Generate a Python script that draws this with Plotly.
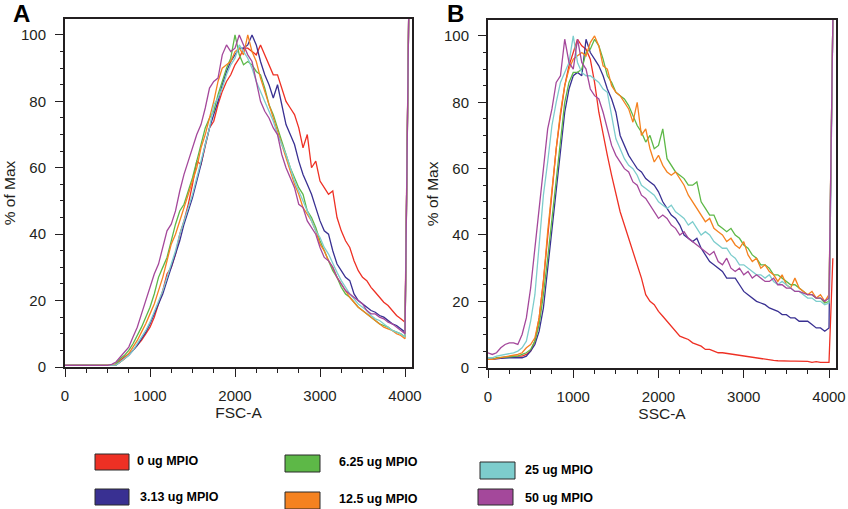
import plotly.graph_objects as go

# ---------------- data ----------------
# channel grid (FSC-A / SSC-A value), shared by both panels
channel = [0, 50, 100, 150, 200, 250, 300, 350, 400, 450,
           500, 550, 600, 650, 700, 750, 800, 850, 900, 950,
           1000, 1050, 1100, 1150, 1200, 1250, 1300, 1350, 1400, 1450,
           1500, 1550, 1600, 1650, 1700, 1750, 1800, 1850, 1900, 1950,
           2000, 2050, 2100, 2150, 2200, 2250, 2300, 2350, 2400, 2450,
           2500, 2550, 2600, 2650, 2700, 2750, 2800, 2850, 2900, 2950,
           3000, 3050, 3100, 3150, 3200, 3250, 3300, 3350, 3400, 3450,
           3500, 3550, 3600, 3650, 3700, 3750, 3800, 3850, 3900, 3950,
           4000, 4045]

series_names = ["0 ug MPIO", "3.13 ug MPIO", "6.25 ug MPIO",
                "12.5 ug MPIO", "25 ug MPIO", "50 ug MPIO"]
series_colors = ["#EE3024", "#393092", "#5DB847", "#F58220", "#7DCDCD", "#A4489B"]

# Panel A : FSC-A, % of Max
fsc_0 = [0.5, 0.5, 0.5, 0.5, 0.5, 0.5, 0.5, 0.5, 0.5, 0.5,
         0.5, 0.5, 0.7, 2, 3, 4, 5, 6.5, 8, 10,
         12, 15, 19, 23, 28, 30, 34, 40, 44, 49,
         55, 62, 61, 67, 72, 74, 79, 83, 86, 88,
         91, 93, 96, 96, 95, 94, 97, 94, 91, 88,
         88, 84, 80, 78, 76, 72, 66, 70, 60, 62,
         56, 54, 52, 53, 45, 41, 38, 36, 32, 29,
         27, 26, 24, 22.5, 21, 19.5, 18.5, 17, 15.5, 14.5,
         13.5, 110]
fsc_313 = [0.5, 0.5, 0.5, 0.5, 0.5, 0.5, 0.5, 0.5, 0.5, 0.5,
           0.5, 0.5, 0.6, 1.5, 2.5, 3.5, 5, 6.5, 8.5, 10.5,
           13, 16, 19, 22, 26, 30, 34, 38, 43, 47,
           51, 56, 61, 67, 72, 76, 80, 85, 89, 92,
           94, 96, 96, 97, 100, 97, 92, 88, 85, 81,
           85, 79, 73, 70, 67, 62, 58, 55, 52, 48,
           44, 41, 40, 35, 31, 29, 27, 26, 22, 20,
           19, 18, 17, 16.5, 15.5, 15, 14, 13, 12.5, 11.5,
           10.5, 110]
fsc_625 = [0.5, 0.5, 0.5, 0.5, 0.5, 0.5, 0.5, 0.5, 0.5, 0.5,
           0.5, 0.6, 1, 2.5, 3.5, 5, 7, 9.5, 12, 15,
           18, 22, 27, 30, 33, 38, 43, 47, 49, 53,
           57, 62, 67, 72, 75, 77, 82, 86, 90, 93,
           100, 94, 91, 92, 91, 89, 88, 84, 79, 76,
           72, 68, 64, 60, 57, 54, 52, 47, 45, 42,
           38, 35, 32, 29, 27, 24, 22, 21, 19.5, 18,
           17, 16, 15, 14, 13, 12.5, 12, 11, 10.5, 10,
           9, 110]
fsc_125 = [0.5, 0.5, 0.5, 0.5, 0.5, 0.5, 0.5, 0.5, 0.5, 0.5,
           0.5, 0.5, 0.7, 1.5, 2.5, 4, 6, 8, 10.5, 13,
           16, 19, 23, 27, 32, 37, 40, 44, 48, 52,
           56, 60, 66, 70, 75, 80, 86, 90, 91, 92,
           95, 96, 94, 100, 95, 92, 87, 83, 79, 75,
           71, 67, 63, 59, 55, 52, 48, 46, 44, 41,
           37, 35, 32, 30, 27, 25, 23, 21, 19.5, 18,
           17, 16, 15, 14, 13, 12, 11.5, 11, 10, 9.5,
           8.5, 110]
fsc_25 = [0.5, 0.5, 0.5, 0.5, 0.5, 0.5, 0.5, 0.5, 0.5, 0.5,
          0.5, 0.5, 0.6, 1.5, 2.5, 3.5, 5, 7, 9, 11,
          13.5, 16.5, 19.5, 23, 27, 31, 35, 40, 44, 48,
          52, 57, 62, 67, 72, 79, 81, 84, 88, 91,
          93, 97, 95, 93, 90, 86, 83, 80, 77, 74,
          70, 67, 64, 60, 56, 53, 50, 47, 44, 41,
          39, 36, 34, 31, 28.5, 26, 24, 22, 20.5, 19,
          18, 17, 15.5, 14.5, 14, 13, 12, 11, 10.5, 10,
          9, 110]
fsc_50 = [0.5, 0.5, 0.5, 0.5, 0.5, 0.5, 0.5, 0.5, 0.5, 0.5,
          0.5, 0.8, 1.5, 3, 4.5, 6, 9, 12, 16, 20,
          24, 28, 31, 36, 41, 43, 47, 53, 58, 62,
          66, 70, 73, 78, 84, 86, 87, 94, 97, 95,
          96, 100, 97, 94, 92, 86, 80, 77, 75, 72,
          70, 64, 60, 57, 54, 49, 48, 44, 42, 40,
          36, 33, 32, 30, 27, 25, 23, 22, 21, 20,
          19, 17, 16, 16, 15, 14.5, 13.5, 13, 12, 11,
          10, 110]

# Panel B : SSC-A, % of Max
ssc_0 = [2.5, 2.5, 2.8, 3, 3.2, 3.5, 3.5, 3.5, 3.5, 4,
         5, 8, 15, 26, 40, 53, 66, 76, 85, 91,
         95, 99, 97, 96, 93, 86, 77, 70, 64, 58,
         52, 47, 43, 39, 35, 31, 27, 22, 20, 19,
         17, 15.5, 14, 12.5, 11, 9.5, 9, 8.5, 7.5, 7,
         6.5, 5.5, 5.5, 5, 4.5, 4.5, 4.3, 4, 4, 3.8,
         3.5, 3.3, 3, 2.8, 2.7, 2.5, 2.4, 2.2, 2.1, 2,
         2, 2, 2, 2, 2, 1.9, 1.6, 1.8, 1.6, 1.5,
         1.6, 33]
ssc_313 = [2.5, 2.5, 2.7, 2.8, 3, 3, 3, 3, 3, 3.5,
           5, 7, 11, 18, 30, 43, 55, 66, 77, 84,
           88, 89, 88, 99, 95, 93, 91, 88, 84, 81,
           77, 70, 67, 64, 62, 60, 59, 57, 56, 55,
           53, 50, 48, 46, 45, 43, 40, 39, 38, 39,
           36, 34, 32, 31, 30, 29, 27, 27, 27, 25,
           23, 22, 21, 20, 19.5, 19, 18, 17.5, 17, 16,
           16, 15, 15, 14, 14, 14, 13, 12, 12, 11,
           12, 105]
ssc_625 = [2.5, 2.5, 3, 3, 3.2, 3.3, 3.5, 3.5, 4, 4.5,
           5.5, 8, 13, 22, 33, 45, 58, 70, 80, 86,
           89, 89, 90, 95, 96, 99, 97, 93, 88, 86,
           83, 82, 81, 79, 76, 73, 71, 68, 70, 66,
           67, 72, 63, 61, 59, 58, 57, 55, 55, 56,
           50, 48, 46, 46, 43, 42, 41, 42, 40, 39,
           37, 36, 34, 33, 31, 31, 30, 28, 28, 27,
           26, 25, 25, 24, 23, 22, 22, 21, 21, 19.5,
           20, 105]
ssc_125 = [2.5, 2.5, 2.8, 3, 3.2, 3.5, 3.8, 4, 4.5, 6,
           7, 9, 15, 26, 41, 54, 66, 77, 85, 90,
           93, 94, 95, 94, 98, 100, 97, 91, 90, 85,
           83, 82, 80, 78, 74, 80, 70, 72, 66, 62,
           64, 61, 59, 58, 59, 57, 55, 52, 50, 48,
           46, 44, 45, 42, 41, 40, 38, 39, 37, 36,
           38, 34, 32, 33, 30, 31, 29, 28, 26, 28,
           25, 24, 27, 24, 23, 22, 23, 21, 22, 20,
           22, 105]
ssc_25 = [3, 3, 3.5, 3.7, 4, 4.2, 4.5, 5, 6, 8,
          14, 22, 37, 52, 62, 73, 80, 86, 89, 92,
          100, 92, 89, 88, 88, 87, 86, 84, 83, 76,
          69, 66, 63, 61, 60, 58, 55, 54, 53, 52,
          50, 49, 48, 49, 47, 46, 45, 43, 44, 42,
          40, 41, 40, 38, 37, 36, 36, 34, 33, 31,
          31, 30, 29, 28, 28, 27, 28, 26, 25, 26,
          25, 24, 23, 23, 22, 21, 21, 20, 20, 19,
          19.5, 105]
ssc_50 = [4.5, 4, 4.5, 6, 7, 7.5, 7.5, 7, 10, 15,
          24, 36, 46, 58, 72, 78, 86, 88, 99, 92,
          90, 99, 92, 90, 84, 82, 81, 77, 72, 67,
          64, 62, 60, 59, 56, 55, 52, 51, 49, 47,
          45, 46, 45, 43, 42, 40, 41, 39, 38, 37,
          36, 35, 34, 35, 32, 31, 33, 30, 29, 30,
          28, 29, 27, 28, 27, 26, 26, 27, 25, 25,
          24, 24, 23, 23, 22.5, 22, 22, 21, 21, 20,
          21, 105]

fsc_series = [fsc_0, fsc_313, fsc_625, fsc_125, fsc_25, fsc_50]
ssc_series = [ssc_0, ssc_313, ssc_625, ssc_125, ssc_25, ssc_50]
for s in fsc_series + ssc_series:
    assert len(s) == len(channel), len(s)

# ---------------- layout helpers ----------------
W, H = 848, 509
INK = "#231f20"
FONT = "Liberation Sans, Arial, Helvetica, sans-serif"


def px(x):
    return x / W


def py(y):
    return 1 - y / H


fig = go.Figure()
for name, color, ya, yb in zip(series_names, series_colors, fsc_series, ssc_series):
    fig.add_trace(go.Scatter(x=channel, y=ya, mode="lines", name=name,
                             line=dict(color=color, width=1.3),
                             xaxis="x", yaxis="y", showlegend=False))
    fig.add_trace(go.Scatter(x=channel, y=yb, mode="lines", name=name,
                             line=dict(color=color, width=1.3),
                             xaxis="x2", yaxis="y2", showlegend=False))

tickfont = dict(family=FONT, size=15, color=INK)
titlefont = dict(family=FONT, size=15.5, color=INK)


def xaxis_cfg(domain, title):
    return dict(domain=domain, range=[0, 4082], tickvals=[0, 1000, 2000, 3000, 4000],
                ticks="outside", ticklen=8, tickwidth=1, tickcolor=INK,
                showline=True, linecolor=INK, linewidth=2, mirror=True,
                showgrid=False, zeroline=False, tickfont=tickfont,
                ticklabelstandoff=6,
                minor=dict(ticks="outside", dtick=250, ticklen=4, tickwidth=1, tickcolor=INK),
                title=dict(text=title, font=titlefont, standoff=2),
                automargin=False, fixedrange=True)


def yaxis_cfg(domain, anchor):
    return dict(domain=domain, range=[0, 104.8], tickvals=[0, 20, 40, 60, 80, 100],
                ticks="outside", ticklen=8, tickwidth=1, tickcolor=INK,
                showline=True, linecolor=INK, linewidth=2, mirror=True,
                showgrid=False, zeroline=False, tickfont=tickfont,
                ticklabelstandoff=6, anchor=anchor,
                minor=dict(ticks="outside", dtick=5, ticklen=3, tickwidth=1, tickcolor=INK),
                title=dict(text="% of Max", font=titlefont, standoff=2),
                automargin=False, fixedrange=True)


fig.update_layout(
    width=W, height=H,
    margin=dict(l=0, r=0, t=0, b=0),
    paper_bgcolor="white", plot_bgcolor="white",
    font=dict(family=FONT, color=INK),
    xaxis=xaxis_cfg([px(65), px(412)], "FSC-A") | dict(anchor="y"),
    yaxis=yaxis_cfg([py(367), py(19)], "x"),
    xaxis2=xaxis_cfg([px(488), px(836)], "SSC-A") | dict(anchor="y2"),
    yaxis2=yaxis_cfg([py(367.7), py(20)], "x2"),
)

# panel letters
for letter, x, y in [("A", 11, 29.5), ("B", 445, 29.5)]:
    fig.add_annotation(text=f"<b>{letter}</b>", xref="paper", yref="paper",
                       x=px(x), y=py(y), xanchor="left", yanchor="bottom",
                       showarrow=False, font=dict(family=FONT, size=24, color="black"))

# custom legend: swatch rectangles + labels
legend_pos = [  # (x0, y0, x1, y1, text_x, text_y) in pixels
    (95, 454, 129, 470, 135, 461),
    (95, 489, 129, 505, 138, 497),
    (285, 455, 320, 472, 337, 462),
    (285, 492, 320, 509, 337, 499),
    (480, 462, 515, 479, 523, 470),
    (478, 489, 513, 505, 523, 498),
]
for name, color, (x0, y0, x1, y1, tx, ty) in zip(series_names, series_colors, legend_pos):
    fig.add_shape(type="rect", xref="paper", yref="paper",
                  x0=px(x0), x1=px(x1), y0=py(y1), y1=py(y0),
                  fillcolor=color, line=dict(color="#2a2a2a", width=1))
    fig.add_annotation(text=f"<b>{name}</b>", xref="paper", yref="paper",
                       x=px(tx), y=py(ty), xanchor="left", yanchor="middle",
                       showarrow=False,
                       font=dict(family=FONT, size=12.5, color="black"))

fig.write_html("out.html")
